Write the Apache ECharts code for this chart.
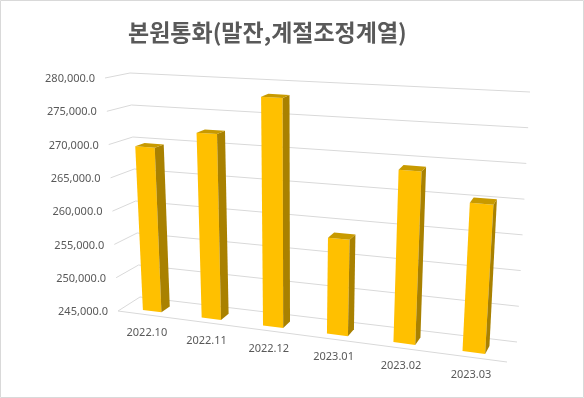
<!DOCTYPE html>
<html>
<head>
<meta charset="utf-8">
<script src="https://cdn.jsdelivr.net/npm/echarts@6/dist/echarts.min.js"></script>
<style>
html, body { margin: 0; padding: 0; background: #fff; }
#main { width: 584px; height: 398px; }
</style>
</head>
<body>
<div id="main"></div>
<script>
var categories = ['2022.10', '2022.11', '2022.12', '2023.01', '2023.02', '2023.03'];
var values = [269700, 272400, 278300, 258700, 269200, 265400];
var yTicks = [245000, 250000, 255000, 260000, 265000, 270000, 275000, 280000];

var chartDom = document.getElementById('main');
var myChart = echarts.init(chartDom);
var option;

// screen corners of the 3d plot box (f/b = front/back, l/r, bottom/top)
var box = {
  flb: [118, 311], blb: [140, 297], brb: [517, 342], frb: [507, 362],
  flt: [105, 78], blt: [130, 73], brt: [530, 92], frt: [524, 102]
};
function lerp(a, b, t) {
  return [a[0] + (b[0] - a[0]) * t, a[1] + (b[1] - a[1]) * t];
}
// u: along categories, v: along values, w: depth (0 front, 1 back)
function project(u, v, w) {
  var bot = lerp(lerp(box.flb, box.blb, w), lerp(box.frb, box.brb, w), u);
  var top = lerp(lerp(box.flt, box.blt, w), lerp(box.frt, box.brt, w), u);
  return lerp(bot, top, v);
}
// perspective squeeze on the far (left) side
function warp(u) { return u * (0.88 + 0.12 * u); }

function fmt(n) {
  return n.toLocaleString('en-US', { minimumFractionDigits: 1, maximumFractionDigits: 1 });
}

var textColor = '#595959';
var lineColor = '#d9d9d9';

option = {
  animation: false,
  title: {
    text: '본원통화(말잔,계절조정계열)',
    left: 123,
    top: 16,
    textStyle: {
      fontFamily: 'Noto Sans CJK KR',
      fontWeight: 'bold',
      fontSize: 23,
      color: textColor
    }
  },
  graphic: [{
    type: 'rect',
    shape: { x: 0.5, y: 0.5, width: 583, height: 397 },
    style: { fill: null, stroke: lineColor, lineWidth: 1 },
    silent: true
  }],
  grid: { left: 105, right: 54, top: 72, bottom: 36 },
  xAxis: { type: 'category', data: categories, show: false },
  yAxis: { type: 'value', min: 245000, max: 280000, interval: 5000, show: false },
  series: [
    {
      // walls: gridlines + value labels
      type: 'custom',
      silent: true,
      data: yTicks.map(function (t) { return [0, t]; }),
      renderItem: function (params, api) {
        var cs = params.coordSys;
        var t = api.value(1);
        var p = api.coord([0, t]);
        var v = (cs.y + cs.height - p[1]) / cs.height;
        var a = project(0, v, 0), b = project(0, v, 1), c = project(1, v, 1);
        var children = [
          { type: 'polyline', shape: { points: [a, b, c] }, style: { stroke: lineColor, lineWidth: 1, fill: null } },
          { type: 'text', style: { text: fmt(t), x: a[0] - 10, y: a[1] + 1, align: 'right', verticalAlign: 'middle',
              fill: textColor, fontSize: 11, fontFamily: 'Noto Sans' } }
        ];
        if (params.dataIndex === 0) {
          children.push({ type: 'line', shape: { x1: a[0], y1: a[1], x2: project(1, 0, 0)[0], y2: project(1, 0, 0)[1] },
            style: { stroke: lineColor, lineWidth: 1 } });
        }
        return { type: 'group', children: children };
      }
    },
    {
      // category labels along the front edge of the floor
      type: 'custom',
      silent: true,
      data: categories.map(function (c, i) { return [i, 245000]; }),
      renderItem: function (params, api) {
        var cs = params.coordSys;
        var pt = api.coord([api.value(0), 245000]);
        var p = project(warp((pt[0] - cs.x) / cs.width), 0, 0);
        return { type: 'text', style: { text: categories[params.dataIndex], x: p[0], y: p[1] + 18,
          align: 'center', verticalAlign: 'middle', fill: textColor, fontSize: 11, fontFamily: 'Noto Sans' } };
      }
    },
    {
      type: 'custom',
      data: values.map(function (v, i) { return [i, v]; }),
      renderItem: function (params, api) {
        var cs = params.coordSys;
        var i = api.value(0), val = api.value(1);
        var top = api.coord([i, val]);
        var base = api.coord([i, 245000]);
        var half = api.size([1, 0])[0] * 0.16;
        var uL = warp((top[0] - half - cs.x) / cs.width);
        var uR = warp((top[0] + half - cs.x) / cs.width);
        var v = (base[1] - top[1]) / cs.height;
        var w0 = 0.25, w1 = 0.65;
        function face(pts, color) {
          return { type: 'polygon', shape: { points: pts }, style: { fill: color } };
        }
        return {
          type: 'group',
          children: [
            face([project(uL, 0, w0), project(uR, 0, w0), project(uR, v, w0), project(uL, v, w0)], '#FFC000'),
            face([project(uR, 0, w0), project(uR, 0, w1), project(uR, v, w1), project(uR, v, w0)], '#A98100'),
            face([project(uL, v, w0), project(uR, v, w0), project(uR, v, w1), project(uL, v, w1)], '#C89A00')
          ]
        };
      }
    }
  ]
};

option && myChart.setOption(option);
</script>
</body>
</html>
